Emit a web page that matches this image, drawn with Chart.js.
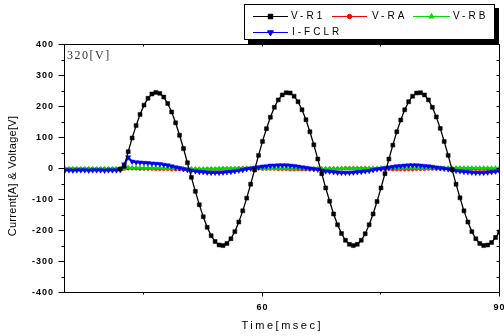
<!DOCTYPE html>
<html><head><meta charset="utf-8">
<script src="https://cdn.jsdelivr.net/npm/chart.js@4/dist/chart.umd.min.js"></script>
<style>html,body{margin:0;padding:0;background:#fff;}canvas{display:block;}</style>
</head><body>
<canvas id="c" width="504" height="336"></canvas>
<script>
const time = [35,35.5,36,36.5,37,37.5,38,38.5,39,39.5,40,40.5,41,41.5,42,42.5,43,43.5,44,44.5,45,45.5,46,46.5,47,47.5,48,48.5,49,49.5,50,50.5,51,51.5,52,52.5,53,53.5,54,54.5,55,55.5,56,56.5,57,57.5,58,58.5,59,59.5,60,60.5,61,61.5,62,62.5,63,63.5,64,64.5,65,65.5,66,66.5,67,67.5,68,68.5,69,69.5,70,70.5,71,71.5,72,72.5,73,73.5,74,74.5,75,75.5,76,76.5,77,77.5,78,78.5,79,79.5,80,80.5,81,81.5,82,82.5,83,83.5,84,84.5,85,85.5,86,86.5,87,87.5,88,88.5,89,89.5,90];
const vR1 = [null,null,null,null,null,null,null,null,null,null,null,null,null,null,0,
  9,56,100,140,176,206,228,242,247,244,
  232,211,184,149,109,66,20,-27,-72,-115,
  -154,-188,-215,-234,-245,-247,-240,-225,-202,-171,
  -135,-94,-49,-3,44,89,130,167,199,223,
  239,246,245,235,217,191,159,120,78,32,
  -15,-61,-104,-145,-180,-208,-230,-243,-247,-243,
  -230,-209,-180,-145,-105,-61,-15,32,77,120,
  158,191,217,235,245,246,239,223,199,168,
  131,89,44,-2,-49,-93,-135,-171,-202,-225,
  -240,-247,-245,-237,-221,-203];
const vRA = [1,1,1,1,1,1,1,1,1,1,1,1,1,1,1,
  1,2,2,2,1,1,1,1,0,0,0,0,-1,-1,-1,-1,-1,-1,-1,
  -1,-1,0,0,0,0,1,1,1,1,2,2,2,2,2,2,1,1,1,1,
  0,0,0,-1,-1,-1,-1,-1,-1,-1,0,0,0,1,1,1,1,2,2,2,
  2,2,2,1,1,1,0,0,0,-1,-1,-1,-1,-1,-1,0,0,0,1,1,
  1,1,2,2,2,2,2,1,1,1,0,0,0,-1,-1,-1,-1];
const vRB = [0,0,0,0,0,0,0,0,0,0,0,0,0,0,0,
  2,5,4,4,4,3,3,3,3,3,2,2,2,2,2,1,1,1,0,
  0,0,0,0,0,1,1,1,1,1,1,2,2,2,2,2,2,2,2,2,
  2,2,2,2,2,1,1,1,1,1,1,1,1,1,1,1,2,2,2,2,
  2,2,2,2,2,2,3,3,3,3,3,3,3,3,3,3,3,3,3,3,
  3,3,3,3,3,3,3,3,3,3,3,3,3,3,3,3,3];
const iFCLR = [-4,-4,-5,-4,-4,-4,-5,-4,-4,-4,-5,-4,-4,-4,-3,
  15,38,24,22,21,20,19,18,17,16,
  14,12,9,6,3,0,-3,-5,-7,-9,
  -10,-11,-12,-12,-12,-11,-10,-9,-7,-5,
  -3,0,2,4,6,8,9,11,11,12,
  12,12,11,10,8,6,4,2,0,-2,
  -5,-7,-8,-10,-11,-12,-12,-12,-11,-10,
  -9,-7,-6,-3,-1,1,3,5,7,9,
  10,11,12,12,12,11,10,9,7,5,
  3,1,-1,-3,-6,-7,-9,-10,-11,-12,
  -12,-12,-11,-10,-8,-7];
const seriesNames = ['V-R1','V-RA','V-RB','I-FCLR'];
const xTickValues = [45,60,75,90];
const xLabelValues = [60,90];
const yTickStep = 50;
const yLabelStep = 100;
const xRange = [35,90];
const yRange = [-400,400];
const annotationText = '320[V]';
const xTitle = 'Time[msec]';
const yTitle = 'Current[A] & Voltage[V]';

const pts = arr => time.map((t,i)=>({x:t,y:arr[i]}));
const styles = [
  {color:'#000000', style:'rect', r:2.8, rot:0, lw:1.3, order:0},
  {color:'#ff0000', style:'circle', r:1.8, rot:0, lw:1, order:3},
  {color:'#00dd00', style:'triangle', r:2.6, rot:0, lw:1.5, order:2},
  {color:'#0000ff', style:'triangle', r:3, rot:180, lw:2, order:1}
];
const datasets = [vR1,vRA,vRB,iFCLR].map((arr,k)=>({
  label: seriesNames[k], data: pts(arr),
  borderColor: styles[k].color, backgroundColor: styles[k].color,
  pointStyle: styles[k].style, pointRadius: styles[k].r, pointRotation: styles[k].rot,
  pointBorderWidth: 0.5, borderWidth: styles[k].lw, order: styles[k].order, tension: 0
}));

const SANS = "'Liberation Sans', Arial, sans-serif";
const decor = {
  id: 'decor',
  beforeDraw(chart){ chart.ctx.letterSpacing = '1px'; },
  beforeDatasetsDraw(chart){ chart.ctx.letterSpacing = '0px'; },
  afterDraw(chart){
    const {ctx, chartArea:a, scales:{x, y}} = chart;
    ctx.save();
    ctx.letterSpacing = '0px';
    ctx.strokeStyle = '#000'; ctx.lineWidth = 1;
    const L = Math.round(a.left) - 0.5, R = Math.round(a.right) - 0.5;
    const T = Math.round(a.top) - 0.5, B = Math.round(a.bottom) - 0.5;
    ctx.strokeRect(L, T, R - L, B - T);
    ctx.beginPath();
    for (let v = yRange[0]; v <= yRange[1]; v += yTickStep) {
      const py = Math.round(y.getPixelForValue(v)) - 0.5;
      const len = (v % yLabelStep === 0) ? 6 : 3;
      ctx.moveTo(L - len, py); ctx.lineTo(L, py);
      ctx.moveTo(R - 3, py); ctx.lineTo(R, py);
    }
    xTickValues.forEach(v => {
      const px = Math.round(x.getPixelForValue(v)) - 0.5;
      const len = xLabelValues.includes(v) ? 4 : 2;
      ctx.moveTo(px, B); ctx.lineTo(px, B + len);
      ctx.moveTo(px, T); ctx.lineTo(px, T + 2);
    });
    ctx.stroke();

    // annotation
    ctx.fillStyle = '#333';
    ctx.font = "12px 'Liberation Serif', 'Times New Roman', serif";
    ctx.letterSpacing = '1.5px';
    ctx.textAlign = 'left'; ctx.textBaseline = 'alphabetic';
    ctx.fillText(annotationText, 67, 59);

    // axis titles
    ctx.fillStyle = '#000';
    ctx.font = "11px " + SANS;
    ctx.letterSpacing = '2.5px';
    ctx.textAlign = 'center'; ctx.textBaseline = 'middle';
    ctx.fillText(xTitle, (a.left + a.right) / 2, 326);
    ctx.letterSpacing = '0.3px';
    ctx.save();
    ctx.translate(12.5, 176); ctx.rotate(-Math.PI / 2);
    ctx.fillText(yTitle, 0, 0);
    ctx.restore();

    // legend
    const bx = 244, by = 4, bw = 251, bh = 36;
    ctx.fillStyle = '#000';
    ctx.fillRect(bx + 4, by + 4, bw, bh);
    ctx.fillStyle = '#fff';
    ctx.fillRect(bx, by, bw, bh);
    ctx.strokeStyle = '#000'; ctx.lineWidth = 1;
    ctx.strokeRect(bx + 0.5, by + 0.5, bw - 1, bh - 1);
    const items = [
      {k:0, x0:253, x1:288, tx:291, y:16},
      {k:1, x0:332, x1:367, tx:372, y:16},
      {k:2, x0:413, x1:450, tx:453, y:16},
      {k:3, x0:253, x1:288, tx:292, y:32}
    ];
    ctx.font = "10px " + SANS;
    ctx.letterSpacing = '3px';
    ctx.textAlign = 'left'; ctx.textBaseline = 'middle';
    items.forEach(it => {
      const s = styles[it.k];
      ctx.strokeStyle = s.color; ctx.fillStyle = s.color; ctx.lineWidth = 1;
      ctx.beginPath(); ctx.moveTo(it.x0, it.y + 0.5); ctx.lineTo(it.x1, it.y + 0.5); ctx.stroke();
      Chart.helpers.drawPoint(ctx, {pointStyle: s.style, rotation: s.rot, radius: s.r + 0.4, borderWidth: 0.5}, (it.x0 + it.x1) / 2, it.y + 0.5);
      ctx.fillStyle = '#000';
      ctx.fillText(seriesNames[it.k], it.tx, it.y + 0.5);
    });
    ctx.restore();
  }
};

new Chart(document.getElementById('c'), {
  type: 'line',
  data: { datasets },
  options: {
    responsive: false, animation: false, devicePixelRatio: 1,
    layout: { padding: { top: 45, right: 4, bottom: 0, left: 0 } },
    plugins: { legend: { display: false }, tooltip: { enabled: false } },
    scales: {
      x: {
        type: 'linear', min: xRange[0], max: xRange[1],
        afterBuildTicks: s => { s.ticks = xTickValues.map(v => ({ value: v })); },
        afterFit: s => { s.height = 43; s.paddingLeft = 0; s.paddingRight = 0; },
        ticks: { autoSkip: false, maxRotation: 0, padding: 5, color: '#000',
          font: { family: SANS, size: 9, weight: 'bold' },
          callback: v => xLabelValues.includes(v) ? String(v) : '' },
        grid: { display: true, drawOnChartArea: false, tickLength: 4, tickColor: 'rgba(0,0,0,0)' },
        border: { display: false }
      },
      y: {
        type: 'linear', min: yRange[0], max: yRange[1],
        afterFit: s => { s.width = 65; s.paddingTop = 0; s.paddingBottom = 0; },
        ticks: { stepSize: yTickStep, autoSkip: false, padding: 6, color: '#000',
          font: { family: SANS, size: 9, weight: 'bold' },
          callback: v => (v % yLabelStep === 0) ? String(v) : '' },
        grid: { display: true, drawOnChartArea: false, tickLength: 5, tickColor: 'rgba(0,0,0,0)' },
        border: { display: false }
      }
    }
  },
  plugins: [decor]
});
</script>
</body></html>
